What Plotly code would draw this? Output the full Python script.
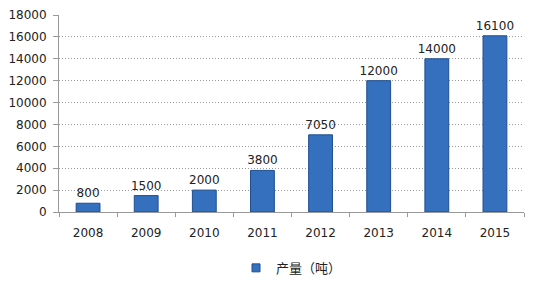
import plotly.graph_objects as go

years = ["2008", "2009", "2010", "2011", "2012", "2013", "2014", "2015"]
output = [800, 1500, 2000, 3800, 7050, 12000, 14000, 16100]
series_name = "产量（吨）"

fig = go.Figure()
fig.add_trace(go.Bar(
    x=years, y=output, name=series_name, showlegend=False,
    marker=dict(color="#3470BE", line=dict(color="#1F4F8F", width=1)),
    text=[str(v) for v in output], textposition="outside", constraintext="none",
    textfont=dict(family="DejaVu Sans", size=12, color="#222"),
    cliponaxis=False,
))
# legend entry with small square
fig.add_trace(go.Scatter(
    x=[years[0]], y=[None], mode="markers", name=series_name,
    marker=dict(symbol="square", size=8, color="#3470BE", line=dict(color="#1F4F8F", width=1)),
))

fig.update_layout(
    width=534, height=282,
    margin=dict(l=59, r=10, t=15, b=70, autoexpand=False),
    paper_bgcolor="white", plot_bgcolor="white",
    bargap=0.59,
    showlegend=True,
    legend=dict(orientation="h", x=0.5, xanchor="center", yref="container", y=0.05, yanchor="middle",
                itemwidth=30, font=dict(family="Noto Sans CJK SC", size=13, color="#222")),
    font=dict(family="DejaVu Sans", size=12, color="#222"),
)
fig.update_xaxes(
    type="category", automargin=False,
    showline=True, linecolor="#999", linewidth=1,
    ticks="outside", tickson="boundaries", ticklen=4, tickcolor="#999",
    ticklabelstandoff=10, tickangle=0,
    tickfont=dict(size=12, color="#222"),
)
fig.update_yaxes(
    range=[0, 18000], dtick=2000, tickformat="d", automargin=False,
    showline=True, linecolor="#999", linewidth=1,
    ticks="outside", ticklen=5, tickcolor="#999",
    ticklabelstandoff=4,
    showgrid=True, gridcolor="#999", griddash="1px,2px", gridwidth=1,
    zeroline=False,
    tickfont=dict(size=12, color="#222"),
)

fig.write_html("out.html")
